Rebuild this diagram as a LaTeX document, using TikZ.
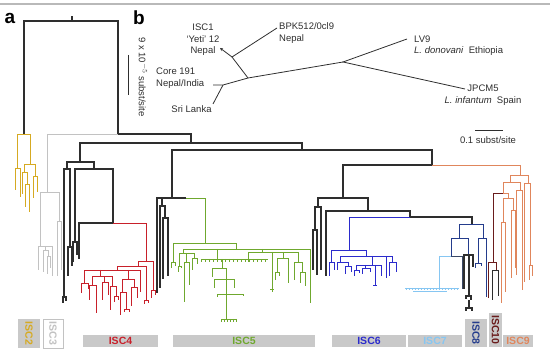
\documentclass[tikz,border=0pt]{standalone}
\usepackage{fontspec}
\setmainfont{Liberation Sans}
\usetikzlibrary{arrows.meta}

\definecolor{branch}{HTML}{2E2E2E}
\definecolor{cISC2}{HTML}{D6AA22}
\definecolor{cISC3}{HTML}{C2C2C2}
\definecolor{cISC4}{HTML}{C8202A}
\definecolor{cISC5}{HTML}{6FA82E}
\definecolor{cISC6}{HTML}{2B2BCC}
\definecolor{cISC7}{HTML}{86C6F2}
\definecolor{cISC8}{HTML}{243C8C}
\definecolor{cISC8d}{HTML}{3A4866}
\definecolor{cISC10}{HTML}{6A1C1C}
\definecolor{cISC9}{HTML}{E0865C}
\definecolor{boxgray}{HTML}{C9C9C9}

\tikzset{
  br/.style={draw=branch, line width=1.05pt},
  c2/.style={draw=cISC2, line width=0.9pt},
  c3/.style={draw=cISC3, line width=0.9pt},
  c4/.style={draw=cISC4, line width=0.9pt},
  c5/.style={draw=cISC5, line width=0.9pt},
  c6/.style={draw=cISC6, line width=0.9pt},
  c7/.style={draw=cISC7, line width=0.9pt},
  c8/.style={draw=cISC8, line width=0.9pt},
  c8d/.style={draw=cISC8d, line width=0.9pt},
  c9/.style={draw=cISC9, line width=0.9pt},
  c10/.style={draw=cISC10, line width=0.9pt},
  tr/.style={draw=branch, line width=0.8pt},
  lbl/.style={text=branch, font=\fontsize{9.5}{11.5}\selectfont, inner sep=0pt},
  panel/.style={font=\bfseries\fontsize{19}{19}\selectfont, inner sep=0pt},
  iscbox/.style={font=\bfseries\fontsize{10.5}{10.5}\selectfont, inner sep=0pt, fill=boxgray},
}

\begin{document}
\begin{tikzpicture}[x=1pt, y=-1pt]
    \useasboundingbox (0,0) rectangle (550,352);
    \draw[gray!55, line width=2pt] (0,4.5) -- (550,4.5);

    % panel letters
    \node[panel] (pa) at (10,18) {a};
    \node[panel] (pb) at (139,18) {b};

    % Panel b: unrooted tree
    \coordinate (nYeti) at (232,57);
    \coordinate (nMid) at (248,78);
    \coordinate (nCore) at (223,85);
    \coordinate (nHub) at (343,62);
    \coordinate (tISC1) at (220,48);
    \coordinate (tBPK) at (277,28);
    \coordinate (tCore) at (213,85);
    \coordinate (tSri) at (213,104);
    \coordinate (tLV) at (407,39);
    \coordinate (tJP) at (465,89);
    \draw[tr, -{Stealth[length=3pt,width=3pt]}] (nYeti) -- (tISC1);
    \draw[tr] (tBPK) -- (nYeti) -- (nMid) -- (nHub);
    \draw[tr] (nMid) -- (nCore) -- (tCore);
    \draw[tr] (nCore) -- (tSri);
    \draw[tr] (tLV) -- (nHub) -- (tJP);
    \node[lbl, align=center] (lISC1) at (203,40) {ISC1\\`Yeti' 12\\Nepal};
    \node[lbl, align=left, anchor=west] (lBPK) at (279,33) {BPK512/0cl9\\Nepal};
    \node[lbl, align=left, anchor=west] (lCore) at (156,78) {Core 191\\Nepal/India};
    \node[lbl] (lSri) at (191.5,109) {Sri Lanka};
    \node[lbl, align=left, anchor=west] (lLV) at (414,45.5) {LV9\\\textit{L. donovani}~~Ethiopia};
    \node[lbl, align=center] (lJP) at (483,95) {JPCM5\\\textit{L. infantum}~~Spain};
    \coordinate (sbL) at (475,130);
    \coordinate (sbR) at (503,130);
    \draw[tr] (sbL) -- (sbR);
    \node[lbl] (lsb) at (488,140.5) {0.1 subst/site};

    % Panel a: scale bar
    \coordinate (saT) at (128,55);
    \coordinate (saB) at (128,95);
    \draw[tr] (saT) -- (saB);
    \node[lbl, rotate=-90] (lsa) at (143,77) {9 x 10$^{-5}$ subst/site};

    % backbone
    \draw[br] (24,134) |- (118,21) -- (118,134);
    \draw[br] (72,21) -- (72,16);
    \draw[br] (118,134) -- (191,134) -- (191,143);
    \draw[br] (80,162) |- (302,143) -- (302,150);
    \draw[br] (172,198) |- (432,150) -- (432,165);

    % ISC2
    \draw[c2] (17,168) |- (30,134) -- (30,164);
    \draw[c2] (15,190) |- (20,168) -- (20,197);
    \draw[c2] (24,172) |- (35,164) -- (35,176);
    \draw[c2] (22,194) |- (27,172) -- (27,184);
    \draw[c2] (25,207) |- (29,184) -- (29,212);
    \draw[c2] (33,198) |- (37,176) -- (37,192);

    % ISC3
    \draw[c3] (47,192) |- (118,134);
    \draw[c3] (40,246) |- (59,192) -- (59,221);
    \draw[c3] (57,276) |- (61,221) -- (61,270);
    \draw[c3] (38,270) |- (52,246) -- (52,276);
    \draw[c3] (45,246) -- (45,250);
    \draw[c3] (43,272) |- (48,250) -- (48,256);
    \draw[c3] (47,274) |- (50,256) -- (50,268);

    % black clades, left
    \draw[br] (67,169) |- (94,162) -- (94,169);
    \draw[br] (64,297) |- (70,169) -- (70,247);
    \draw[br] (63,303) |- (66,297) -- (66,301);
    \draw[br] (68,276) |- (72,247) -- (72,266);
    \draw[br] (75,242) |- (113,169) -- (113,223);
    \draw[br] (73,262) |- (77,242) -- (77,255);
    \draw[br] (79,259) |- (113,223);

    % ISC4
    \draw[c4] (113,223) -- (146,223) -- (146,261);
    \draw[c4] (138,266) |- (153,261) -- (153,290);
    \draw[c4] (151,298) |- (155,290) -- (155,295);
    \draw[c4] (117,270) |- (146,266) -- (146,300);
    \draw[c4] (144,304) |- (148,300) -- (148,303);
    \draw[c4] (84,283) |- (140,270) -- (140,292);
    \draw[c4] (100,270) -- (100,276);
    \draw[c4] (128,270) -- (128,279);
    \draw[c4] (81,293) |- (88,283) -- (88,289);
    \draw[c4] (92,285) |- (112,276) -- (112,286);
    \draw[c4] (104,276) -- (104,282);
    \draw[c4] (102,300) |- (108,282) -- (108,295);
    \draw[c4] (89,300) |- (96,285) -- (96,313);
    \draw[c4] (110,310) |- (116,286) -- (116,296);
    \draw[c4] (114,302) |- (118,296) -- (118,300);
    \draw[c4] (122,292) |- (134,279) -- (134,287);
    \draw[c4] (131,306) |- (137,287) -- (137,298);
    \draw[c4] (120,315) |- (126,292) -- (126,309);
    \draw[c4] (124,312) |- (129,309) -- (129,312);

    % black comb, middle
    \draw[br] (157,293) |- (186,198);
    \draw[br] (162,198) -- (162,206);
    \draw[br] (160,288) |- (165,206) -- (165,218);
    \draw[br] (163,279) |- (168,218) -- (168,276);

    % ISC5
    \draw[c5] (186,198) -- (205,198) -- (205,243);
    \draw[c5] (173,262) |- (236,243) -- (236,249);
    \draw[c5] (171,268) |- (175,262) -- (175,266);
    \draw[c5] (183,253) |- (310,249) -- (310,303);
    \draw[c5] (179,266) |- (194,253) -- (194,258);
    \draw[c5] (178,272) |- (181,266) -- (181,268);
    \draw[c5] (186,253) -- (186,262);
    \draw[c5] (184,302) |- (189,262) -- (189,285);
    \draw[c5] (192,270) |- (197,258) -- (197,264);
    \draw[c5] (217,249) -- (217,259);
    \draw[c5] (201,259) -- (268,259);
    \foreach \x in {201,205,...,267}
        \draw[c5, line width=0.7pt] (\x,259) -- (\x,262);
    \draw[c5] (222,259) -- (222,268);
    \draw[c5] (212,277) |- (226,268) -- (226,279);
    \draw[c5] (214,288) |- (234,279) -- (234,288);
    \draw[c5] (226,279) -- (226,319);
    \draw[c5] (217,297) |- (243,294) -- (243,296);
    \draw[c5] (221,319) -- (236,319);
    \foreach \x in {221,224,...,236}
        \draw[c5, line width=0.7pt] (\x,319) -- (\x,322);
    \draw[c5] (262,249) -- (262,252);
    \draw[c5] (248,262) |- (298,252) -- (298,262);
    \draw[c5] (272,252) -- (272,292);
    \draw[c5] (270,289) -- (274,289);
    \draw[c5] (283,252) -- (283,258);
    \draw[c5] (277,272) |- (288,258) -- (288,283);
    \draw[c5] (275,280) |- (279,272) -- (279,276);
    \draw[c5] (294,280) |- (302,262) -- (302,272);
    \draw[c5] (300,283) |- (305,272) -- (305,286);

    % black clades, right
    \draw[br] (343,198) |- (432,165);
    \draw[br] (318,207) |- (368,198) -- (368,211);
    \draw[br] (315,230) |- (321,207) -- (321,270);
    \draw[br] (313,270) |- (317,230) -- (317,275);
    \draw[br] (326,276) |- (410,211) -- (410,217);
    \draw[br] (410,217) -- (472,217) -- (472,224);

    % ISC6
    \draw[c6] (349,250) |- (410,217);
    \draw[c6] (331,262) |- (366,250) -- (366,256);
    \draw[c6] (329,276) |- (334,262) -- (334,270);
    \draw[c6] (340,262) |- (392,256) -- (392,262);
    \draw[c6] (337,270) |- (348,262) -- (348,266);
    \draw[c6] (345,274) |- (351,266) -- (351,272);
    \draw[c6] (372,256) -- (372,265);
    \draw[c6] (386,256) -- (386,278);
    \draw[c6] (356,270) |- (381,265) -- (381,276);
    \draw[c6] (354,276) |- (359,270) -- (359,273);
    \draw[c6] (365,265) -- (365,268);
    \draw[c6] (362,274) |- (370,268) -- (370,272);
    \draw[c6] (375,265) -- (375,285);
    \draw[c6] (373,285) -- (377,285);
    \draw[c6] (389,276) |- (396,262) -- (396,272);

    % ISC7 and ISC8
    \draw[c8] (459,238) |- (483,224) -- (483,238);
    \draw[c8] (451,256) |- (468,238) -- (468,255);
    \draw[c7] (439,288) |- (451,256);
    \draw[c8d] (451,256) -- (462,256) -- (462,289);
    \draw[c7] (405,288) -- (459,288);
    \draw[c7] (413,291) -- (447,291);
    \foreach \x in {406,409,...,457}
        \draw[c7, line width=0.6pt] (\x,288) -- (\x,290.5);
    \draw[br] (464,289) |- (473,255) -- (473,267);
    \draw[br] (469,255) -- (469,296);
    \draw[br] (466,299) |- (471,296) -- (471,300);
    \draw[br] (469,300) -- (469,308);
    \draw[br] (466,311) |- (472,308) -- (472,311);
    \draw[c8] (478,263) |- (486,238) -- (486,297);
    \draw[c8] (475,268) |- (481,263) -- (481,266);

    % ISC9 and ISC10
    \draw[c9] (432,165) -- (520,165) -- (520,175);
    \draw[c9] (510,182) |- (528,175) -- (528,183);
    \draw[c9] (524,282) |- (530,183) -- (530,265);
    \draw[c9] (529,280) |- (532,265) -- (532,276);
    \draw[c9] (503,193) |- (520,182) -- (520,190);
    \draw[c9] (516,275) |- (522,190) -- (522,290);
    \draw[c10] (493,262) |- (503,193);
    \draw[c9] (503,193) -- (508,193) -- (508,198);
    \draw[c9] (503,222) |- (513,198) -- (513,210);
    \draw[c9] (501,303) |- (505,222) -- (505,292);
    \draw[c9] (511,278) |- (515,210) -- (515,268);
    \draw[c10] (488,298) |- (496,262) -- (496,270);
    \draw[br, line width=0.9pt] (492,300) |- (498,270) -- (498,296);

    % clade labels
    \node[iscbox, minimum width=29pt, minimum height=22pt, rotate=-90, text=cISC2] (bISC2) at (29,333.5) {ISC2};
    \node[iscbox, fill=white, draw=cISC3, minimum width=29pt, minimum height=20pt, rotate=-90, text=cISC3] (bISC3) at (53,333.5) {ISC3};
    \node[iscbox, minimum width=75pt, minimum height=12pt, text=cISC4] (bISC4) at (120.5,341) {ISC4};
    \node[iscbox, minimum width=142pt, minimum height=12pt, text=cISC5] (bISC5) at (244,341) {ISC5};
    \node[iscbox, minimum width=74pt, minimum height=12pt, text=cISC6] (bISC6) at (369,341) {ISC6};
    \node[iscbox, minimum width=54pt, minimum height=12pt, text=cISC7] (bISC7) at (435,341) {ISC7};
    \node[iscbox, minimum width=28pt, minimum height=22pt, rotate=-90, text=cISC8] (bISC8) at (476,333) {ISC8};
    \node[iscbox, minimum width=34pt, minimum height=13pt, rotate=-90, text=cISC10] (bISC10) at (495.5,330) {ISC10};
    \node[iscbox, minimum width=30pt, minimum height=12pt, text=cISC9] (bISC9) at (518,341) {ISC9};
\end{tikzpicture}
\end{document}
